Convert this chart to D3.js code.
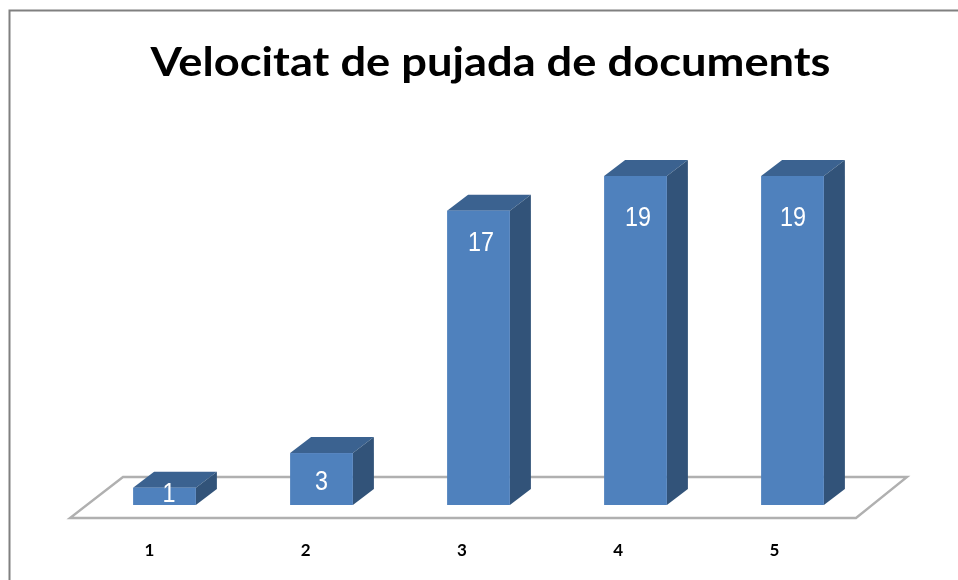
<!DOCTYPE html>
<html lang="en">
<head>
  <meta charset="utf-8">
  <script src="https://d3js.org/d3.v7.min.js"></script>
  <style>
    html, body { margin: 0; padding: 0; background: #fff; }
    svg { display: block; }
  </style>
</head>
<body>
  <div id="my_dataviz"></div>
  <script>
    // values
    const categories = ["1", "2", "3", "4", "5"];
    const values = [1, 3, 17, 19, 19];
    const chartTitle = "Velocitat de pujada de documents";

    const totalWidth = 958, totalHeight = 580;

    // front plane of the plot, the 3d depth goes up and to the right from it
    const plot = {left: 86, right: 871, top: 176, bottom: 505};
    const depthX = 21, depthY = 16;

    const svg = d3.select("#my_dataviz")
      .append("svg")
        .attr("width", totalWidth)
        .attr("height", totalHeight);

    const soft = svg.append("defs").append("filter")
        .attr("id", "soft")
        .attr("filterUnits", "userSpaceOnUse")
        .attr("x", 0).attr("y", 0)
        .attr("width", totalWidth).attr("height", totalHeight);
    soft.append("feGaussianBlur").attr("stdDeviation", 0.6);

    const chart = svg.append("g").attr("filter", "url(#soft)");

    // outer frame, cut off by the right and bottom of the picture
    chart.append("path")
      .attr("d", `M9.5,${totalHeight + 5} V10.5 H${totalWidth + 5}`)
      .attr("fill", "none")
      .attr("stroke", "#808080")
      .attr("stroke-width", 2);

    const x = d3.scaleBand()
      .domain(categories)
      .range([plot.left, plot.right])
      .paddingInner(0.6)
      .paddingOuter(0.3);

    const y = d3.scaleLinear()
      .domain([0, 19])
      .range([plot.bottom, plot.top]);

    // floor
    const floorFront = y(0) + 13, floorBack = y(0) - 28;
    chart.append("path")
      .attr("d", `M${plot.left - 16},${floorFront} H${plot.right - 15} L${plot.right + 36},${floorBack} H${plot.left + 37} Z`)
      .attr("fill", "#fff")
      .attr("stroke", "#b0b0b0")
      .attr("stroke-width", 2.4);

    // Bars
    const bars = chart.selectAll("g.bar")
      .data(values)
      .join("g")
        .attr("class", "bar");

    bars.append("path")
      .attr("fill", "#3a6290")
      .attr("d", (d, i) => {
        const x0 = x(categories[i]), x1 = x0 + x.bandwidth(), t = y(d);
        return `M${x0},${t} L${x0 + depthX},${t - depthY} H${x1 + depthX} L${x1},${t} Z`;
      });

    bars.append("path")
      .attr("fill", "#315379")
      .attr("d", (d, i) => {
        const x1 = x(categories[i]) + x.bandwidth(), t = y(d);
        return `M${x1},${t} L${x1 + depthX},${t - depthY} V${y(0) - depthY} L${x1},${y(0)} Z`;
      });

    bars.append("rect")
      .attr("x", (d, i) => x(categories[i]))
      .attr("y", d => y(d))
      .attr("width", x.bandwidth())
      .attr("height", d => y(0) - y(d))
      .attr("fill", "#4f81bd");

    // value labels do not sit at a fixed place in the bar, the taller the bar the lower
    const labelDown = d => d < 2 ? 14 : d < 5 ? 37 : d < 18 ? 40 : 50;
    const labelRight = [4.5, 0, 2.5, 2.5, 0.5];

    bars.append("text")
      .attr("x", (d, i) => x(categories[i]) + x.bandwidth() / 2 + labelRight[i])
      .attr("y", d => y(d) + labelDown(d))
      .attr("text-anchor", "middle")
      .attr("textLength", d => String(d).length * 13)
      .attr("lengthAdjust", "spacingAndGlyphs")
      .attr("fill", "#fff")
      .style("font-family", "'Liberation Sans', sans-serif")
      .style("font-size", "28px")
      .text(d => d);

    // X axis, the labels run on a slightly tighter step than the bars
    const xLabels = d3.scalePoint()
      .domain(categories)
      .range([149, 774]);

    const axis = chart.append("g")
      .attr("transform", `translate(0, ${y(0) + 39})`)
      .call(d3.axisBottom(xLabels).tickSize(0).tickPadding(0));
    axis.select(".domain").remove();
    axis.selectAll("text")
      .attr("fill", "#000")
      .style("font-family", "Lato, sans-serif")
      .style("font-weight", "700")
      .style("font-size", "17px");

    // title
    chart.append("text")
      .attr("x", 490.5)
      .attr("y", 76)
      .attr("text-anchor", "middle")
      .attr("textLength", 680)
      .attr("lengthAdjust", "spacingAndGlyphs")
      .attr("fill", "#000")
      .style("font-family", "Lato, sans-serif")
      .style("font-weight", "700")
      .style("font-size", "40px")
      .text(chartTitle);
  </script>
</body>
</html>
